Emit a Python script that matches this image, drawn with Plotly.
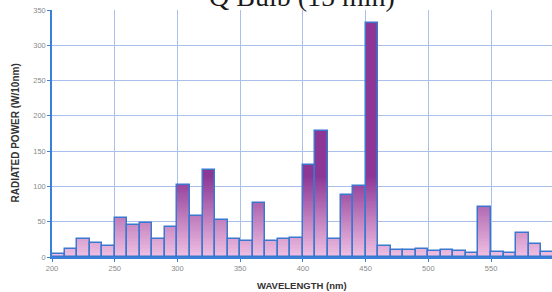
import plotly.graph_objects as go

title_text = "Q Bulb (15 min)"
x_title = "WAVELENGTH (nm)"
y_title = "RADIATED POWER (W/10nm)"

wavelength_start = [200, 210, 220, 230, 240, 250, 260, 270, 280, 290,
                    300, 310, 320, 330, 340, 350, 360, 370, 380, 390,
                    400, 410, 420, 430, 440, 450, 460, 470, 480, 490,
                    500, 510, 520, 530, 540, 550, 560, 570, 580, 590]
power = [4, 11, 25, 20, 16, 55, 46, 48, 25, 42,
         102, 58, 123, 52, 25, 23, 77, 23, 25, 27,
         131, 178, 25, 88, 100, 332, 16, 10, 10, 12,
         8, 10, 8.5, 5, 71, 6.5, 5, 34, 19, 7]
x_ticks = [200, 250, 300, 350, 400, 450, 500, 550]
y_ticks = [0, 50, 100, 150, 200, 250, 300, 350]

centers = [w + 5 for w in wavelength_start]

dark = (140, 55, 150)
light = (240, 192, 226)
top_level = 115.0
n_layers = 46


def mix(t):
    r = tuple(int(round(light[i] + (dark[i] - light[i]) * t)) for i in range(3))
    return "rgb(%d,%d,%d)" % r


fig = go.Figure()
# full-height base layer (dark)
fig.add_trace(go.Bar(x=centers, y=power, width=10,
                     marker=dict(color=mix(1.0), line=dict(width=0)),
                     hoverinfo="skip", showlegend=False))
# gradient layers, capped at decreasing levels
for k in range(n_layers, 0, -1):
    level = top_level * k / n_layers
    t = (k - 0.5) / n_layers
    capped = [min(v, level) for v in power]
    fig.add_trace(go.Bar(x=centers, y=capped, width=10,
                         marker=dict(color=mix(t), line=dict(width=0)),
                         hoverinfo="skip", showlegend=False))
# outline layer
fig.add_trace(go.Bar(x=centers, y=power, width=10,
                     marker=dict(color="rgba(0,0,0,0)",
                                 line=dict(color="#3a78d0", width=1.5)),
                     showlegend=False))

fig.update_layout(
    width=552, height=292,
    margin=dict(l=52, r=0, t=10, b=35),
    paper_bgcolor="white", plot_bgcolor="white",
    barmode="overlay", bargap=0,
    showlegend=False,
    xaxis=dict(range=[200, 598.6], tickvals=x_ticks,
               showgrid=True, gridcolor="#a9c0ea", gridwidth=1,
               showline=True, linecolor="#3a80d8", linewidth=1.5,
               ticks="outside", ticklen=3, tickcolor="#3a80d8",
               tickfont=dict(family="Liberation Sans", size=7.5, color="#8a8a8a"),
               zeroline=False),
    yaxis=dict(range=[0, 350], tickvals=y_ticks,
               showgrid=True, gridcolor="#a9c0ea", gridwidth=1,
               showline=True, linecolor="#3a80d8", linewidth=1.5,
               ticks="outside", ticklen=3, tickcolor="#3a80d8",
               tickfont=dict(family="Liberation Sans", size=7.5, color="#8a8a8a"),
               zeroline=False),
    annotations=[
        dict(text=title_text, xref="paper", yref="paper", x=0.5, y=1,
             xanchor="center", yanchor="bottom", yshift=-4, showarrow=False,
             font=dict(family="Liberation Serif", size=28, color="#1a1a1a")),
        dict(text="<b>" + x_title + "</b>", xref="paper", yref="paper",
             x=0.5, y=0, xanchor="center", yanchor="middle", yshift=-28,
             showarrow=False,
             font=dict(family="Liberation Sans", size=9.5, color="#333333")),
        dict(text="<b>" + y_title + "</b>", xref="paper", yref="paper",
             x=0, y=0.5, xanchor="center", yanchor="middle", xshift=-37,
             textangle=-90, showarrow=False,
             font=dict(family="Liberation Sans Narrow, Liberation Sans", size=10, color="#333333")),
    ],
)

fig.write_html("out.html",
               config={"displayModeBar": False},
               post_script="document.body.style.margin='0';document.body.style.overflow='hidden';")
